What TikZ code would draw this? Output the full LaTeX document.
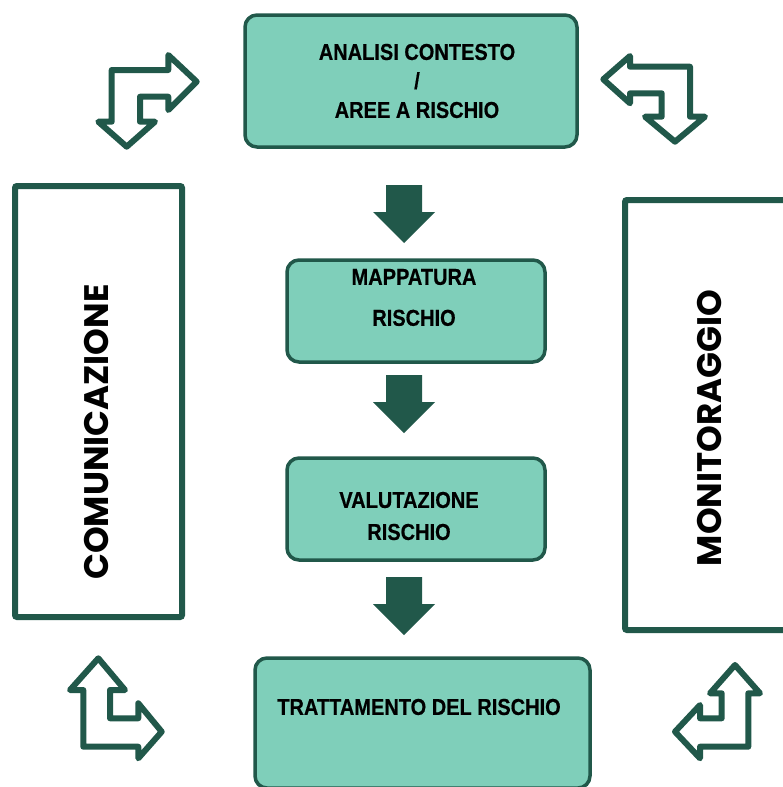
\documentclass[tikz,border=0pt]{standalone}
\usepackage{fontspec}
\newfontfamily\boxfont{Liberation Sans Bold}[FakeStretch=0.87, FakeBold=0.5]
\newfontfamily\sidefont{Poppins}
\definecolor{boxfill}{RGB}{127,207,186}
\definecolor{dkgreen}{RGB}{33,88,74}
\begin{document}
\begin{tikzpicture}[x=1pt,y=-1pt,
  stepbox/.style={draw=dkgreen, line width=3.5pt, fill=boxfill, rounded corners=12pt, inner sep=0pt},
  sidebox/.style={draw=dkgreen, line width=6pt, fill=white, rounded corners=2pt, inner sep=0pt},
  txt/.style={font=\boxfont\fontsize{23}{29}\selectfont, align=center, text=black, inner sep=0pt},
  sidetxt/.style={font=\sidefont\bfseries\fontsize{34}{38}\selectfont, rotate=90, text=black, inner sep=0pt},
  icon/.style={draw=dkgreen, line width=6pt, fill=white, line join=round},
  blockdown/.pic={\fill[dkgreen] (-18,0) -- (18,0) -- (18,27) -- (31,27) -- (0,58) -- (-31,27) -- (-18,27) -- cycle;}
]
\useasboundingbox (0,0) rectangle (783,787);
\fill[white] (0,0) rectangle (783,787);

% main boxes
\node[stepbox, minimum width=332pt, minimum height=132pt] (ctx) at (411,81) {};
\node[stepbox, minimum width=258pt, minimum height=102pt] (map) at (416,311) {};
\node[stepbox, minimum width=258pt, minimum height=102pt] (val) at (416,509) {};
\node[stepbox, minimum width=335pt, minimum height=130pt] (trt) at (422.5,723) {};

\node[txt] (ctxt) at (417,81) {ANALISI CONTESTO\\/\\AREE A RISCHIO};
\node[txt, font=\boxfont\fontsize{23}{41}\selectfont] (mapt) at (414,297.5) {MAPPATURA\\RISCHIO};
\node[txt, font=\boxfont\fontsize{23}{32}\selectfont] (valt) at (409,516) {VALUTAZIONE\\RISCHIO};
\node[txt] (trtt) at (419,707) {TRATTAMENTO DEL RISCHIO};

% side boxes
\node[sidebox, minimum width=167pt, minimum height=431pt] (com) at (98.5,401.5) {};
\node[sidebox, minimum width=175pt, minimum height=430pt] (mon) at (712.5,415) {};
\node[sidetxt] (comt) at (97,432) {COMUNICAZIONE};
\node[sidetxt] (mont) at (710,428) {MONITORAGGIO};

% block arrows
\pic at (404,185) {blockdown};
\pic at (404,375) {blockdown};
\pic at (404,577) {blockdown};

% corner icons
\draw[icon] (111.7,70) -- (168.3,70) -- (168.3,55) -- (196.7,81.7) -- (168.3,110) -- (168.3,96.7)
  -- (140,96.7) -- (140,121.7) -- (155,121.7) -- (126.7,146.7) -- (98.3,121.7) -- (111.7,121.7) -- cycle;
\draw[icon] (690,66.7) -- (630,66.7) -- (630,56) -- (603.3,79.3) -- (630,103.3) -- (630,93.3)
  -- (661.7,93.3) -- (661.7,116.7) -- (645,116.7) -- (675,141.7) -- (705,116.7) -- (690,116.7) -- cycle;
\draw[icon] (98.3,658.3) -- (125,690) -- (110,690) -- (110,718.3) -- (138.3,718.3) -- (138.3,703.3)
  -- (161.7,731.7) -- (138.3,758.3) -- (138.3,746.7) -- (83.3,746.7) -- (83.3,690) -- (70,690) -- cycle;
\draw[icon] (735,665) -- (760,693.3) -- (748.3,693.3) -- (748.3,746.7) -- (700,746.7) -- (700,758.3)
  -- (675,731.7) -- (700,705) -- (700,718.3) -- (721.7,718.3) -- (721.7,693.3) -- (710,693.3) -- cycle;
\end{tikzpicture}
\end{document}
